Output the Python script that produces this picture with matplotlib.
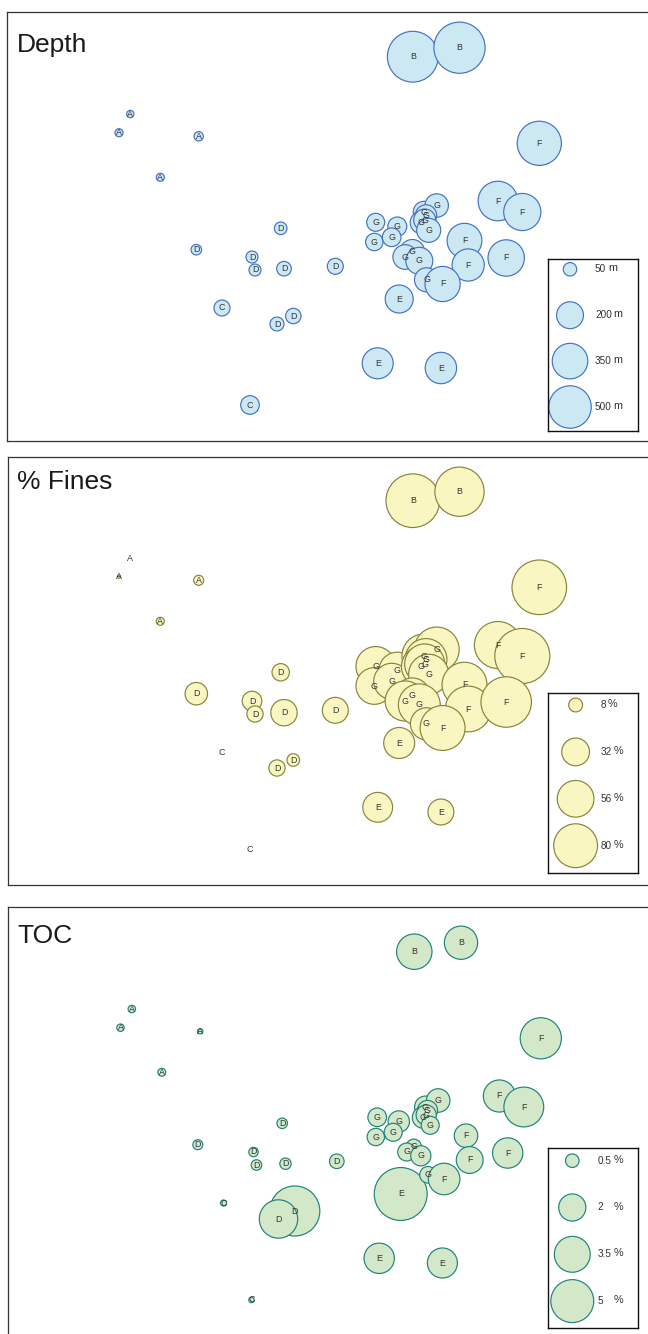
import numpy as np
import matplotlib
matplotlib.use("Agg")
from matplotlib import pyplot as plt

plt.rcParams['font.family'] = ['Liberation Sans', 'DejaVu Sans']

# stations: group letter and map position (same in all three maps)
station = ['A', 'A', 'A', 'A', 'B', 'B', 'C', 'C',
           'D', 'D', 'D', 'D', 'D', 'D', 'D', 'D',
           'E', 'E', 'E'] + ['G'] * 14 + ['F'] * 7
east = [130.3, 119.0, 198.7, 160.3, 412.8, 459.5, 222.0, 250.0,
        280.7, 196.3, 252.0, 255.0, 284.0, 335.3, 293.3, 277.0,
        399.2, 377.7, 440.9,
        375.7, 374.3, 397.3, 391.7, 424.0, 436.7, 426.0, 421.5, 424.7, 428.7,
        412.3, 405.2, 419.3, 426.5,
        539.3, 497.9, 522.3, 464.5, 468.2, 506.2, 442.6]
south = [114.0, 132.7, 136.3, 177.3, 56.7, 47.7, 308.0, 405.0,
         228.3, 249.7, 257.0, 270.0, 268.7, 266.3, 316.0, 324.0,
         299.0, 363.3, 368.0,
         222.3, 242.0, 226.5, 237.3, 212.0, 205.5, 215.5, 222.5, 220.0, 230.3,
         251.8, 257.0, 260.8, 279.8,
         143.3, 201.0, 212.0, 240.7, 265.0, 258.0, 284.0]

# values per station
depth = [15, 18, 24, 18, 715, 726, 71, 96,
         44, 31, 40, 40, 59, 71, 66, 54,
         217, 266, 273,
         90, 84, 100, 96, 127, 152, 127, 141, 134, 160, 168, 168, 202, 160,
         541, 434, 383, 335, 287, 367, 343]
fines = [0, 0.4, 4.2, 2.7, 120, 101, 0, 0,
         12.6, 21, 16, 11, 29, 28, 6.6, 11,
         40, 37, 28,
         65, 56, 56, 54, 81, 84, 73, 67, 67, 67, 53, 67, 73, 43,
         124, 92, 126, 84, 87, 106, 84]
toc = [0.15, 0.15, 0.08, 0.17, 3.4, 3.0, 0.10, 0.08,
       0.30, 0.27, 0.24, 0.30, 0.35, 0.58, 6.8, 4.0,
       7.6, 2.5, 2.45,
       0.94, 0.82, 1.24, 0.88, 1.3, 1.5, 1.1, 1.24, 1.1, 0.88, 0.64, 0.88, 1.1, 0.75,
       4.6, 2.8, 4.3, 1.5, 1.95, 2.5, 2.7]

legend_depth = [50, 200, 350, 500]
legend_fines = [8, 32, 56, 80]
legend_toc = [0.5, 2, 3.5, 5]

W, H, DPI = 648, 1334, 100
FRAME_H = 428.5
RIGHT = 660


def bubble_area(values, k):
    # bubble area proportional to value, radius in pixels -> marker area in pt^2
    r = k * np.sqrt(np.asarray(values, dtype=float))
    return (2 * r * 72.0 / DPI) ** 2


def draw_panel(fig, values, k, face, edge, title, cfg, leg_vals, unit):
    fl, ft, dx, dy = cfg['frame']
    ax = fig.add_axes([fl / W, 1 - (ft + FRAME_H) / H, (RIGHT - fl) / W, FRAME_H / H])
    ax.set_xlim(fl - dx, RIGHT - dx)
    ax.set_ylim(ft + FRAME_H - dy, ft - dy)
    ax.set_xticks([])
    ax.set_yticks([])
    for sp in ax.spines.values():
        sp.set_color('#333333')
        sp.set_linewidth(0.9)

    v = np.asarray(values, dtype=float)
    x = np.asarray(east)
    y = np.asarray(south)
    m = v > 0
    ax.scatter(x[m], y[m], s=bubble_area(v[m], k), c=face, edgecolors=edge,
               linewidths=0.85, zorder=2)
    for sx, sy, g in zip(x, y, station):
        ax.text(sx, sy, g, ha='center', va='center', fontsize=6.4,
                color='#333333', zorder=3)

    ax.annotate(title, xy=(0, 1), xycoords='axes fraction',
                xytext=(9 * 0.72, -cfg['title_base'] * 0.72),
                textcoords='offset points', va='baseline', ha='left',
                fontsize=19, color='#1a1a1a')

    # legend box
    bl, bt, bw, bh = cfg['box']
    lg = fig.add_axes([bl / W, 1 - (bt + bh) / H, bw / W, bh / H])
    first, step = cfg['first'], cfg['step']
    lg.set_xlim(0, 1)
    lg.set_ylim((bh - first) / step, -first / step)
    lg.set_xticks([])
    lg.set_yticks([])
    for sp in lg.spines.values():
        sp.set_color('#111111')
        sp.set_linewidth(1.0)
    idx = np.arange(len(leg_vals))
    lg.scatter(np.full(len(leg_vals), cfg['cx']), idx, s=bubble_area(leg_vals, k),
               c=face, edgecolors=edge, linewidths=0.85, clip_on=False, zorder=2)
    for i, lv in enumerate(leg_vals):
        t = lg.text(cfg['tx'], i, f"{lv:g}", ha='left', va='center',
                    fontsize=7.2, color='#333333')
        if cfg.get('unit_col') is None:
            lg.annotate(unit, xy=(1, 0.5), xycoords=t, xytext=(1.2, 0.6),
                        textcoords='offset points', ha='left', va='center',
                        fontsize=7.8, color='#333333')
        else:
            lg.annotate(unit, xy=(cfg['unit_col'], i), xycoords='data',
                        xytext=(0, 0.6), textcoords='offset points',
                        ha='left', va='center', fontsize=7.8, color='#333333')


fig = plt.figure(figsize=(W / DPI, H / DPI), dpi=DPI)
fig.patch.set_facecolor('white')

cfg_depth = dict(frame=(7.4, 12.3, 0, 0), title_base=39.4,
                 box=(547.5, 259.3, 90.1, 171.7), first=10.0, step=45.9,
                 cx=0.25, tx=0.527)
cfg_fines = dict(frame=(8.3, 456.7, 0, 444), title_base=32.3,
                 box=(547.5, 692.7, 90.1, 180.0), first=12.3, step=46.9,
                 cx=0.312, tx=0.587)
cfg_toc = dict(frame=(8.0, 906.7, 1.5, 895), title_base=36.0,
               box=(547.5, 1147.7, 90.1, 180.0), first=13.0, step=46.8,
               cx=0.275, tx=0.555, unit_col=0.738)

draw_panel(fig, depth, 0.95, '#cce8f3', '#4472c4', 'Depth', cfg_depth, legend_depth, 'm')
draw_panel(fig, fines, 2.45, '#faf6c2', '#85853a', '% Fines', cfg_fines, legend_fines, '%')
draw_panel(fig, toc, 9.6, '#d3e7c9', '#1f8479', 'TOC', cfg_toc, legend_toc, '%')

fig.savefig('out.png', dpi=DPI)
